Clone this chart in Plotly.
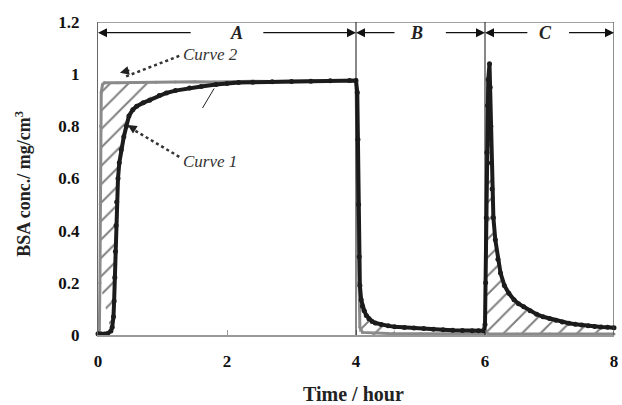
import numpy as np
import plotly.graph_objects as go

# ---------------- data ----------------
# Curve 1 (measured, black with markers)
t1 = [0, 0.05, 0.1, 0.15, 0.2, 0.22, 0.24, 0.25, 0.26, 0.27, 0.28, 0.29, 0.31, 0.33, 0.36,
      0.4, 0.44, 0.48, 0.54, 0.6, 0.7, 0.8, 0.95, 1.06, 1.2, 1.42, 1.6, 1.83, 2.0, 2.18,
      2.4, 2.7, 3.0, 3.3, 3.6, 3.9, 4.0, 4.02, 4.03, 4.04, 4.05, 4.06, 4.08, 4.1, 4.13,
      4.16, 4.2, 4.25, 4.3, 4.39, 4.5, 4.6, 4.75, 4.9, 5.05, 5.2, 5.35, 5.5, 5.65, 5.8,
      5.9, 5.98, 6.0, 6.01, 6.02, 6.03, 6.04, 6.05, 6.07, 6.08, 6.09, 6.1, 6.11, 6.13,
      6.16, 6.2, 6.24, 6.3, 6.37, 6.45, 6.52, 6.6, 6.7, 6.8, 6.9, 7.0, 7.1, 7.2, 7.3,
      7.4, 7.5, 7.6, 7.7, 7.8, 7.9, 8.0]
c1 = [0.005, 0.004, 0.004, 0.006, 0.015, 0.03, 0.07, 0.13, 0.22, 0.32, 0.42, 0.51, 0.6, 0.66, 0.71,
      0.76, 0.8, 0.84, 0.864, 0.877, 0.89, 0.9, 0.918, 0.928, 0.937, 0.947, 0.953, 0.96, 0.964, 0.968,
      0.969, 0.971, 0.972, 0.973, 0.975, 0.976, 0.976, 0.93, 0.75, 0.5, 0.3, 0.19, 0.135, 0.11, 0.092,
      0.075, 0.062, 0.052, 0.046, 0.04, 0.035, 0.032, 0.029, 0.027, 0.025, 0.022, 0.02, 0.018, 0.017, 0.016,
      0.016, 0.016, 0.04, 0.2, 0.45, 0.7, 0.88, 0.98, 1.04, 0.95, 0.8, 0.66, 0.56, 0.45,
      0.365, 0.29, 0.238, 0.19, 0.16, 0.135, 0.12, 0.108, 0.093, 0.08, 0.07, 0.063, 0.057, 0.05, 0.045,
      0.041, 0.038, 0.035, 0.033, 0.031, 0.03, 0.028]

# Curve 2 (reference step, grey)
t2 = [0, 0.02, 0.03, 0.035, 0.04, 0.05, 0.07, 0.1, 0.3, 0.5, 0.7, 0.9, 1.2, 1.5, 1.8, 2.1,
      2.4, 2.7, 3.0, 3.3, 3.6, 3.9, 4.0, 4.02, 4.04, 4.06, 4.1, 4.5, 5.0, 5.5, 5.98, 6.0,
      6.02, 6.05, 6.5, 7.0, 7.5, 8.0]
c2 = [0, 0, 0.2, 0.5, 0.8, 0.93, 0.96, 0.967, 0.967, 0.968, 0.968, 0.969, 0.97, 0.971, 0.97, 0.972,
      0.973, 0.972, 0.974, 0.975, 0.975, 0.976, 0.976, 0.6, 0.2, 0.03, 0.01, 0.006, 0.005, 0.005, 0.005, 0.03,
      0.01, 0.004, 0.004, 0.004, 0.004, 0.004]

x_ticks = [0, 2, 4, 6, 8]
y_ticks = [0, 0.2, 0.4, 0.6, 0.8, 1, 1.2]
y_tick_text = ["0", "0.2", "0.4", "0.6", "0.8", "1", "1.2"]
section_bounds = [0, 4, 6, 8]
section_names = ["A", "B", "C"]
section_label_x = [2.14, 4.94, 6.94]

# ---------------- figure ----------------
T1, C1 = np.array(t1), np.array(c1)
T2, C2 = np.array(t2), np.array(c2)

SERIF = "Liberation Serif, Times New Roman, serif"
hatch = dict(shape="/", fgcolor="#000", bgcolor="rgba(0,0,0,0)", size=13, solidity=0.15,
             fillmode="overlay")

fig = go.Figure()

# hatched area A: between curve 2 and curve 1 during the start-up
mg = (T2 >= 0.03) & (T2 <= 0.9)
mb = (T1 >= 0.2) & (T1 <= 0.9)
px_ = np.concatenate([T2[mg], T1[mb][::-1]])
py_ = np.concatenate([C2[mg], C1[mb][::-1]])
fig.add_trace(go.Scatter(x=px_, y=py_, mode="lines", fill="toself", line=dict(width=0),
                         fillcolor="rgba(0,0,0,0)", fillpattern=hatch, hoverinfo="skip",
                         showlegend=False))
# hatched area B
m = (T1 >= 4.05) & (T1 <= 4.6)
fig.add_trace(go.Scatter(x=T1[m], y=C1[m], mode="lines", fill="tozeroy", line=dict(width=0),
                         fillcolor="rgba(0,0,0,0)", fillpattern=hatch, showlegend=False))
# hatched area C
m = (T1 >= 6.0)
fig.add_trace(go.Scatter(x=T1[m], y=C1[m], mode="lines", fill="tozeroy", line=dict(width=0),
                         fillcolor="rgba(0,0,0,0)", fillpattern=hatch, showlegend=False))

# Curve 2
fig.add_trace(go.Scatter(x=t2, y=c2, mode="lines+markers", name="Curve 2",
                         line=dict(color="#8a8a8a", width=3),
                         marker=dict(color="#8a8a8a", size=3), cliponaxis=False,
                         showlegend=False))
# Curve 1
fig.add_trace(go.Scatter(x=t1, y=c1, mode="lines+markers", name="Curve 1",
                         line=dict(color="#1c1c1c", width=4),
                         marker=dict(color="#1c1c1c", size=5), cliponaxis=False,
                         showlegend=False))

shapes = []
# frame (top and right)
shapes.append(dict(type="line", xref="x", yref="y", x0=0, x1=8, y0=1.2, y1=1.2,
                   line=dict(color="#444", width=1.2)))
shapes.append(dict(type="line", xref="x", yref="y", x0=8, x1=8, y0=0, y1=1.2,
                   line=dict(color="#444", width=1.2)))
# section dividers
for b in section_bounds[1:-1]:
    shapes.append(dict(type="line", xref="x", yref="y", x0=b, x1=b, y0=0, y1=1.228,
                       line=dict(color="#111", width=1)))
# small pointer tick
shapes.append(dict(type="line", xref="x", yref="y", x0=1.62, x1=1.8, y0=0.87, y1=0.945,
                   line=dict(color="#222", width=1)))
# dotted leader lines
shapes.append(dict(type="line", xref="x", yref="y", x0=1.26, y0=1.07, x1=0.42, y1=0.99,
                   line=dict(color="#333", width=2.5, dash="dot")))
shapes.append(dict(type="line", xref="x", yref="y", x0=1.26, y0=0.683, x1=0.53, y1=0.79,
                   line=dict(color="#333", width=2.5, dash="dot")))

annotations = []
ay_arrow = 1.159
arrow_tails = [(1.46, 2.54), (4.62, 5.37), (6.68, 7.28)]
for i, name in enumerate(section_names):
    x0, x1 = section_bounds[i], section_bounds[i + 1]
    lt, rt = arrow_tails[i]
    for head, tail in ((x0, lt), (x1, rt)):
        annotations.append(dict(x=head, y=ay_arrow, ax=tail, ay=ay_arrow, xref="x", yref="y",
                                axref="x", ayref="y", showarrow=True, arrowhead=2,
                                arrowsize=1.5, arrowwidth=1.2, arrowcolor="#111", text=""))
    annotations.append(dict(x=section_label_x[i], y=ay_arrow, xref="x", yref="y",
                            text="<b><i>" + name + "</i></b>", showarrow=False,
                            font=dict(family=SERIF, size=18, color="#222")))

# curve labels with arrowheads
annotations.append(dict(x=1.29, y=1.074, xref="x", yref="y", text="<i>Curve 2</i>",
                        showarrow=False, xanchor="left",
                        font=dict(family=SERIF, size=17, color="#333")))
annotations.append(dict(x=1.29, y=0.667, xref="x", yref="y", text="<i>Curve 1</i>",
                        showarrow=False, xanchor="left",
                        font=dict(family=SERIF, size=17, color="#333")))
annotations.append(dict(x=0.34, y=1.005, xref="x", yref="y", ax=11, ay=-3, text="",
                        showarrow=True, arrowhead=2, arrowsize=1.2, arrowwidth=1.5,
                        arrowcolor="#222"))
annotations.append(dict(x=0.46, y=0.805, xref="x", yref="y", ax=9, ay=5.5, text="",
                        showarrow=True, arrowhead=2, arrowsize=1.2, arrowwidth=1.5,
                        arrowcolor="#222"))

# axis titles
annotations.append(dict(x=0.495, y=-0.19, xref="paper", yref="paper", yanchor="middle",
                        xanchor="center", text="<b>Time / hour</b>", showarrow=False,
                        font=dict(family=SERIF, size=20, color="#222")))
annotations.append(dict(x=-0.146, y=0.482, xref="paper", yref="paper", textangle=-90,
                        xanchor="center", yanchor="middle",
                        text="<b>BSA conc./ mg/cm<sup>3</sup></b>", showarrow=False,
                        font=dict(family=SERIF, size=18, color="#222")))

fig.update_layout(
    width=622, height=405,
    margin=dict(l=98, r=4, t=22, b=70),
    plot_bgcolor="white", paper_bgcolor="white",
    shapes=shapes, annotations=annotations,
    showlegend=False,
    xaxis=dict(range=[0, 8], tickvals=x_ticks, ticktext=[f"<b>{v}</b>" for v in x_ticks],
               showgrid=False, zeroline=False, showline=True, linecolor="#999", linewidth=1.5,
               ticks="inside", ticklen=5, tickcolor="#999", ticklabelstandoff=10,
               ticklabeloverflow="allow",
               tickfont=dict(family=SERIF, size=17, color="#111")),
    yaxis=dict(range=[0, 1.2], tickvals=y_ticks, ticktext=[f"<b>{s}</b>" for s in y_tick_text],
               showgrid=False, zeroline=False, showline=True, linecolor="#666", linewidth=1.2,
               ticks="", ticklabelstandoff=14,
               tickfont=dict(family=SERIF, size=17, color="#111")),
)

fig.write_html("out.html", config={"displayModeBar": False},
               post_script="document.body.style.margin='0px';document.body.style.overflow='hidden';")
